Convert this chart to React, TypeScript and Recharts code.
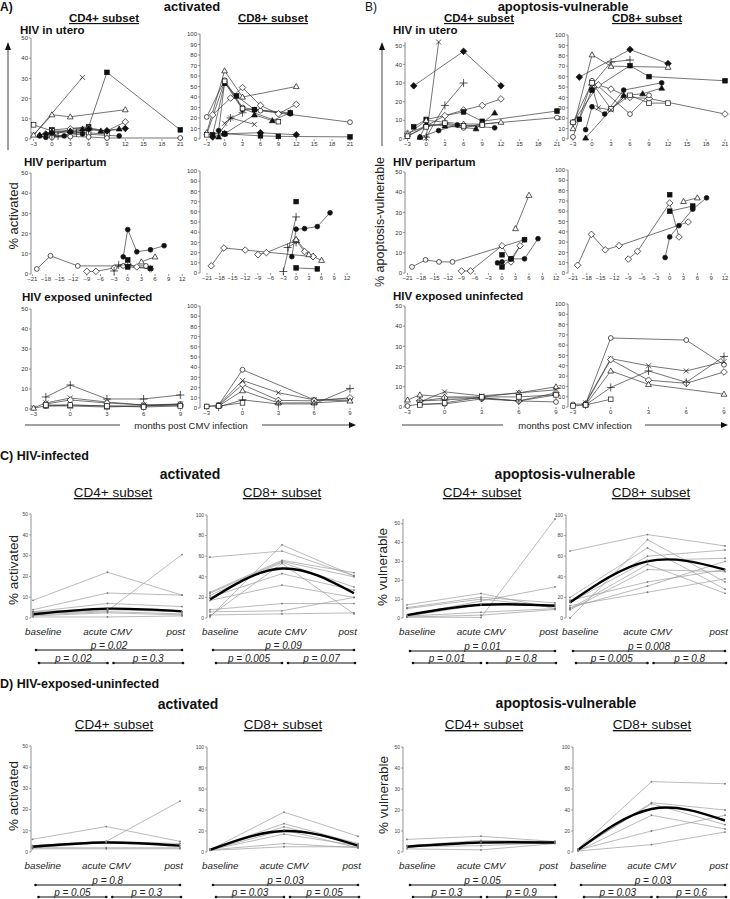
import React from "react";
import { LineChart, Line, XAxis, YAxis } from "recharts";

type Shape = "oc" | "fc" | "os" | "fs" | "ot" | "ft" | "od" | "fd" | "x" | "+";
type Series = { s: Shape; p: [number, number][] };
type Box = { ax: number; top: number; y0: number; x0: number; x1: number };

const FONT = "'Liberation Sans', Arial, sans-serif";

// tick values
const monthsUtero = [-3, 0, 3, 6, 9, 12, 15, 18, 21];
const monthsPeri = [-21, -18, -15, -12, -9, -6, -3, 0, 3, 6, 9, 12];
const monthsUninf = [-3, 0, 3, 6, 9];
const ticks50 = [0, 10, 20, 30, 40, 50];
const ticks100 = [0, 10, 20, 30, 40, 50, 60, 70, 80, 90, 100];
const ticks100by20 = [0, 20, 40, 60, 80, 100];
const phases = ["baseline", "acute CMV", "post"];

// A) activated, per subject: [month, %]
const aUteroCD4: Series[] = [
  { s: "x", p: [[-3, 2], [5, 30.5]] },
  { s: "fs", p: [[0, 4.5], [6, 6], [9, 33], [21, 4.5]] },
  { s: "ot", p: [[-3, 2], [0, 12], [3, 11], [12, 14.5]] },
  { s: "os", p: [[-3, 7], [0, 4], [3, 4], [6, 3], [9, 2.5]] },
  { s: "od", p: [[0, 1.5], [3, 5], [6, 5.5], [9, 4], [12, 8.5]] },
  { s: "ft", p: [[-2, 2], [0, 3.5], [3, 4], [5, 5], [8, 4], [11, 5]] },
  { s: "fd", p: [[-1, 2.5], [0, 3], [3, 3.5], [6, 5], [9, 4], [12, 5.2]] },
  { s: "fc", p: [[-2, 1.5], [-1, 0.8], [2, 1.5], [5, 2.5], [11, 1.5]] },
  { s: "oc", p: [[0, 0.8], [3, 1.2], [6, 1], [9, 0.5], [21, 0.5]] },
  { s: "+", p: [[0, 2], [1, 1.5], [4, 3], [6, 4.5]] },
];
const aUteroCD8: Series[] = [
  { s: "oc", p: [[-3, 21], [0, 56], [3, 30], [6, 27], [21, 16]] },
  { s: "ot", p: [[-3, 6], [0, 65], [3, 40], [12, 50]] },
  { s: "od", p: [[-2, 23], [1, 39], [3, 49], [6, 32], [9, 24], [12, 33]] },
  { s: "fs", p: [[-2, 4], [0, 53], [2, 41], [5, 28], [11, 25]] },
  { s: "fs", p: [[0, 5], [6, 3], [9, 2.5], [21, 2]] },
  { s: "fc", p: [[-1, 8], [0, 54], [3, 28], [5, 28], [11, 24]] },
  { s: "ft", p: [[-1, 2], [0, 5], [5, 23], [8, 17.5], [11, 25]] },
  { s: "fd", p: [[-2, 2], [0, 5], [6, 6], [12, 4]] },
  { s: "x", p: [[0, 15], [1, 20], [5, 14]] },
  { s: "+", p: [[-1, 5], [1, 20], [3, 25]] },
  { s: "os", p: [[-3, 4], [0, 55], [3, 29], [9, 16.5]] },
];
const aPeriCD4: Series[] = [
  { s: "oc", p: [[-20, 2.5], [-17, 9], [-11, 4], [-1, 4], [4, 4]] },
  { s: "od", p: [[-9, 1.3], [-7, 1.3], [-3, 3], [0, 5], [2, 3.5], [5, 2.5]] },
  { s: "+", p: [[-3, 1.5], [-2, 4.5], [0, 4.5]] },
  { s: "fc", p: [[-1, 8.5], [0, 22], [2, 11], [5, 12], [8, 14]] },
  { s: "fs", p: [[0, 7]] },
  { s: "fs", p: [[0, 3.5], [5, 2.8]] },
  { s: "ot", p: [[3, 6], [6, 8.5]] },
];
const aPeriCD8: Series[] = [
  { s: "od", p: [[-20, 7], [-17, 24.5], [-12, 22.5], [4, 16]] },
  { s: "od", p: [[-9, 18], [-7, 20], [0, 32], [2, 21], [4, 16]] },
  { s: "+", p: [[-3, 1.5], [0, 55]] },
  { s: "+", p: [[-2, 25], [0, 30]] },
  { s: "fs", p: [[0, 70]] },
  { s: "fs", p: [[0, 5], [5, 4]] },
  { s: "fc", p: [[-1, 16], [0, 43], [2, 43.5], [5, 45.5], [8, 59]] },
  { s: "ot", p: [[0, 33], [3, 18], [6, 12.5]] },
];
const aUninfCD4: Series[] = [
  { s: "+", p: [[-2, 6], [0, 12], [3, 5], [6, 5], [9, 7]] },
  { s: "x", p: [[-3, 0.5], [-2, 3], [0, 5.5], [3, 3.5], [6, 2], [9, 2.5]] },
  { s: "od", p: [[-2, 2.5], [0, 4.5], [3, 3], [6, 2], [9, 2]] },
  { s: "oc", p: [[-2, 1.5], [0, 2], [3, 1.5], [6, 1.5], [9, 2.5]] },
  { s: "ot", p: [[-3, 0.5], [-2, 1.5], [0, 1.5], [3, 1], [6, 1.5], [9, 2]] },
  { s: "os", p: [[-2, 2], [0, 2], [3, 1.5], [6, 1], [9, 1.5]] },
];
const aUninfCD8: Series[] = [
  { s: "oc", p: [[-3, 1.5], [-2, 3], [0, 37.5], [6, 8], [9, 9]] },
  { s: "x", p: [[-2, 3], [0, 27], [3, 15], [6, 8], [9, 7]] },
  { s: "od", p: [[-2, 2.5], [0, 23], [3, 7.5], [6, 7], [9, 10]] },
  { s: "ot", p: [[-2, 2], [0, 17], [3, 5], [6, 5], [9, 7]] },
  { s: "+", p: [[-2, 1], [0, 8], [3, 4], [6, 4], [9, 19]] },
  { s: "os", p: [[-3, 1.5], [-2, 2], [0, 5]] },
];

// B) apoptosis-vulnerable
const bUteroCD4: Series[] = [
  { s: "fd", p: [[-2, 28.5], [6, 47], [12, 28.5]] },
  { s: "x", p: [[0, 0.5], [2, 52]] },
  { s: "+", p: [[0, 1], [3, 18], [6, 30]] },
  { s: "od", p: [[-3, 3], [0, 7], [3, 12.5], [6, 15.5], [9, 18], [12, 21.5]] },
  { s: "fs", p: [[-2, 6.5], [0, 10.5], [6, 14.5], [9, 9.5], [21, 15]] },
  { s: "oc", p: [[-3, 1.5], [0, 7], [3, 8], [6, 6], [9, 8], [21, 11.5]] },
  { s: "ft", p: [[-1, 1], [0, 8], [3, 7], [8, 5.5], [11, 14]] },
  { s: "ot", p: [[-3, 2.5], [0, 10], [3, 9], [6, 8], [9, 8], [12, 9]] },
  { s: "fc", p: [[-1, 1], [2, 4.5], [5, 7.5], [11, 6]] },
  { s: "os", p: [[-3, 1.5], [0, 6.5], [3, 8.5], [6, 7], [9, 7.5]] },
];
const bUteroCD8: Series[] = [
  { s: "fd", p: [[-2, 59.5], [6, 86], [12, 72.5]] },
  { s: "ot", p: [[-3, 10], [0, 81], [3, 70], [12, 69]] },
  { s: "+", p: [[0, 52], [3, 74], [6, 76]] },
  { s: "fs", p: [[-2, 19], [0, 47], [6, 70.5], [9, 60], [21, 56]] },
  { s: "fc", p: [[-1, 9], [0, 31], [2, 24], [5, 47], [11, 54]] },
  { s: "ft", p: [[-1, 1], [5, 42], [8, 43.5], [11, 49]] },
  { s: "od", p: [[-3, 16], [1, 52], [3, 48], [6, 40], [9, 39], [21, 24]] },
  { s: "oc", p: [[-3, 2], [0, 56], [6, 24], [9, 42]] },
  { s: "os", p: [[-3, 16], [0, 54], [3, 29], [6, 42], [9, 34.5], [12, 34.5]] },
  { s: "x", p: [[0, 50], [1, 30], [3, 28], [5, 40]] },
];
const bPeriCD4: Series[] = [
  { s: "oc", p: [[-20, 3], [-17, 6.5], [-14, 5.5], [-11, 5.5], [5, 16.5]] },
  { s: "od", p: [[-9, 1], [-7, 1], [0, 13.5], [2, 5.5], [4, 13.5]] },
  { s: "ot", p: [[3, 22], [6, 38.5]] },
  { s: "fc", p: [[-1, 5], [0, 5.5], [2, 7], [5, 7], [8, 17]] },
  { s: "fs", p: [[0, 9]] },
  { s: "fs", p: [[0, 3], [2, 7], [5, 16.5]] },
];
const bPeriCD8: Series[] = [
  { s: "od", p: [[-20, 7.5], [-17, 37.5], [-14, 22.5], [-11, 26.5], [4, 49.5]] },
  { s: "od", p: [[-9, 13.5], [-7, 21], [0, 68], [2, 35]] },
  { s: "ot", p: [[3, 69.5], [6, 73]] },
  { s: "fs", p: [[0, 76]] },
  { s: "fs", p: [[0, 60], [5, 65]] },
  { s: "fc", p: [[-1, 15], [0, 35], [2, 46], [5, 62], [8, 73]] },
];
const bUninfCD4: Series[] = [
  { s: "ot", p: [[-3, 3.5], [-2, 6], [0, 5], [3, 5], [6, 7], [9, 10]] },
  { s: "x", p: [[-2, 2.5], [0, 7.5], [3, 5.5], [6, 7], [9, 8.5]] },
  { s: "oc", p: [[-3, 0.5], [-2, 1.5], [0, 1.5], [3, 4], [6, 3], [9, 2.5]] },
  { s: "od", p: [[-2, 3], [0, 4.5], [3, 4.5], [6, 3], [9, 7]] },
  { s: "+", p: [[-2, 3], [0, 3.5], [3, 4.5], [6, 3], [9, 6]] },
  { s: "os", p: [[-2, 1], [0, 2], [3, 5], [6, 5], [9, 6]] },
];
const bUninfCD8: Series[] = [
  { s: "oc", p: [[-3, 2.5], [-2, 3], [0, 67], [6, 65], [9, 41]] },
  { s: "x", p: [[-2, 4], [0, 47], [3, 40], [6, 35], [9, 44]] },
  { s: "od", p: [[-2, 3], [0, 46], [3, 26], [6, 23], [9, 34]] },
  { s: "ot", p: [[-2, 2], [0, 35], [3, 22], [9, 12.5]] },
  { s: "+", p: [[-2, 2], [0, 19], [3, 35], [6, 24], [9, 49]] },
  { s: "os", p: [[-3, 1], [-2, 2], [0, 7.5]] },
];

// C) HIV-infected: [baseline, acute, post] per subject, plus smoothed mean
const cActCD4 = [[8.5, 22, 11], [4, 12, 11], [3, 7, 5.5], [2, 3.5, 30.5], [2.5, 4, 3], [1.5, 3, 2], [1, 2.5, 1.5], [0.5, 0.5, 1], [3, 4.5, 3]];
const cActCD4Mean = [1.8, 4.5, 3.2];
const cActCD8 = [[59, 65, 41], [25, 56, 44], [24, 55, 40], [22, 54, 30], [20, 43, 27], [17, 32, 20], [8, 14, 14], [6, 7, 20], [3, 4, 5], [1, 71, 41], [2, 53, 4]];
const cActCD8Mean = [18, 48, 24];
const cVulCD4 = [[7, 13, 5], [5.5, 11, 8], [5, 10, 6], [1.5, 9, 16.5], [1, 7, 7], [0.5, 0.3, 52.5], [1, 3, 5], [0.5, 1.5, 4.5]];
const cVulCD4Mean = [1.5, 7, 6.5];
const cVulCD8 = [[65, 81, 70], [0, 76, 35], [20, 68, 28], [17, 60, 66], [15, 56, 58], [9, 52, 24], [8, 47, 45], [17, 35, 47], [10, 31, 55], [12, 25, 38]];
const cVulCD8Mean = [15, 55, 47];

// D) HIV-exposed-uninfected
const dActCD4 = [[6, 12, 5], [3, 5, 24], [3, 5, 4], [2, 4.5, 3], [1.5, 1.5, 1.5], [2, 2, 2]];
const dActCD4Mean = [2.5, 4.5, 3];
const dActCD8 = [[2, 38, 15], [3, 27, 8], [2, 24, 7], [2, 17, 6], [2, 8, 4], [1.5, 5, 5], [2, 21, 4]];
const dActCD8Mean = [2, 20, 6];
const dVulCD4 = [[6, 7.5, 5], [3, 5.5, 5], [2.5, 3, 4.5], [1.5, 1, 4], [3, 4.5, 5]];
const dVulCD4Mean = [2.5, 4.5, 4.5];
const dVulCD8 = [[3, 67, 65], [2, 47, 40], [2, 46, 26], [1, 35, 22], [2, 20, 35], [1, 7, 19]];
const dVulCD8Mean = [2, 41, 30];

// p-values: [baseline-post, baseline-acute, acute-post]
const pCActCD4 = ["p = 0.02", "p = 0.02", "p = 0.3"];
const pCActCD8 = ["p = 0.09", "p = 0.005", "p = 0.07"];
const pCVulCD4 = ["p = 0.01", "p = 0.01", "p = 0.8"];
const pCVulCD8 = ["p = 0.008", "p = 0.005", "p = 0.8"];
const pDActCD4 = ["p = 0.8", "p = 0.05", "p = 0.3"];
const pDActCD8 = ["p = 0.03", "p = 0.03", "p = 0.05"];
const pDVulCD4 = ["p = 0.05", "p = 0.3", "p = 0.9"];
const pDVulCD8 = ["p = 0.03", "p = 0.03", "p = 0.6"];

// plot boxes: axis x, top tick y, zero y, first/last x position
const boxA1: Box = { ax: 30.7, top: 38, y0: 139, x0: 33.3, x1: 180 };
const boxA2: Box = { ax: 200, top: 34, y0: 139, x0: 206.7, x1: 350 };
const boxA3: Box = { ax: 30.7, top: 173, y0: 274, x0: 32, x1: 182 };
const boxA4: Box = { ax: 200, top: 171, y0: 273, x0: 207, x1: 347 };
const boxA5: Box = { ax: 30.7, top: 309, y0: 409, x0: 33.3, x1: 180 };
const boxA6: Box = { ax: 200, top: 306, y0: 408, x0: 206.7, x1: 350 };
const boxB1: Box = { ax: 405, top: 42, y0: 139, x0: 407.5, x1: 557 };
const boxB2: Box = { ax: 568, top: 35, y0: 139, x0: 573, x1: 725 };
const boxB3: Box = { ax: 405, top: 172, y0: 273, x0: 407.5, x1: 556 };
const boxB4: Box = { ax: 568, top: 170, y0: 273, x0: 573, x1: 725 };
const boxB5: Box = { ax: 405, top: 306, y0: 407, x0: 407.5, x1: 556 };
const boxB6: Box = { ax: 568, top: 304, y0: 407, x0: 573, x1: 724 };
const boxC1: Box = { ax: 31, top: 514, y0: 618, x0: 33, x1: 182 };
const boxC2: Box = { ax: 207, top: 515, y0: 618, x0: 210, x1: 354 };
const boxC3: Box = { ax: 403, top: 519, y0: 618, x0: 407, x1: 555 };
const boxC4: Box = { ax: 566, top: 515, y0: 618, x0: 570, x1: 725 };
const boxD1: Box = { ax: 31, top: 746, y0: 852, x0: 32.5, x1: 180 };
const boxD2: Box = { ax: 207, top: 747, y0: 852, x0: 210, x1: 358 };
const boxD3: Box = { ax: 403, top: 747, y0: 852, x0: 407, x1: 555 };
const boxD4: Box = { ax: 573, top: 747, y0: 852, x0: 578, x1: 725 };

const INK = "#111";

function Marker({ cx, cy, s }: { cx: number; cy: number; s: Shape }) {
  const fill = s[0] === "f" ? INK : "#fff";
  const st = { stroke: INK, strokeWidth: 0.7 };
  switch (s) {
    case "oc":
    case "fc":
      return <circle cx={cx} cy={cy} r={2.4} fill={fill} {...st} />;
    case "os":
    case "fs":
      return <rect x={cx - 2.3} y={cy - 2.3} width={4.6} height={4.6} fill={fill} {...st} />;
    case "ot":
    case "ft":
      return <polygon points={`${cx},${cy - 3} ${cx + 2.9},${cy + 2.1} ${cx - 2.9},${cy + 2.1}`} fill={fill} {...st} />;
    case "od":
    case "fd":
      return <polygon points={`${cx},${cy - 3.3} ${cx + 3.3},${cy} ${cx},${cy + 3.3} ${cx - 3.3},${cy}`} fill={fill} {...st} />;
    case "x":
      return <path d={`M${cx - 2.5},${cy - 2.5}L${cx + 2.5},${cy + 2.5}M${cx - 2.5},${cy + 2.5}L${cx + 2.5},${cy - 2.5}`} fill="none" {...st} />;
    default:
      return <path d={`M${cx - 4},${cy}H${cx + 4}M${cx},${cy - 4}V${cy + 4}`} fill="none" {...st} />;
  }
}

const fmtMonth = (v: number) => (v < 0 ? `\u2212${-v}` : `${v}`);
const smallTick = { fontSize: 6, fill: "#333", fontFamily: FONT };

function MonthChart({ data, b, xt, yt }: { data: Series[]; b: Box; xt: number[]; yt: number[] }) {
  const YW = 24, MT = 6, MR = 6, XH = 13;
  const w = YW + (b.x1 - b.ax) + MR;
  const h = MT + (b.y0 - b.top) + XH;
  return (
    <div style={{ position: "absolute", left: b.ax - YW, top: b.top - MT }}>
      <LineChart width={w} height={h} margin={{ top: MT, right: MR, left: 0, bottom: 0 }}>
        <XAxis
          type="number"
          dataKey="x"
          domain={[xt[0], xt[xt.length - 1]]}
          ticks={xt}
          interval={0}
          padding={{ left: b.x0 - b.ax, right: 0 }}
          height={XH}
          axisLine={false}
          tickLine={{ stroke: "#555", strokeWidth: 0.6 }}
          tickSize={2}
          tickMargin={1}
          tickFormatter={fmtMonth}
          tick={smallTick}
        />
        <YAxis
          type="number"
          domain={[0, yt[yt.length - 1]]}
          ticks={yt}
          interval={0}
          width={YW}
          axisLine={{ stroke: "#555", strokeWidth: 0.7 }}
          tickLine={{ stroke: "#555", strokeWidth: 0.6 }}
          tickSize={2}
          tickMargin={1}
          tick={smallTick}
        />
        {data.map((sr, i) => (
          <Line
            key={i}
            type="linear"
            data={sr.p.map(([x, y]) => ({ x, y }))}
            dataKey="y"
            stroke="#3a3a3a"
            strokeWidth={0.7}
            activeDot={false}
            isAnimationActive={false}
            dot={(pr: any) =>
              pr.cx == null ? <g key={pr.index} /> : <Marker key={pr.index} cx={pr.cx} cy={pr.cy} s={sr.s} />
            }
          />
        ))}
      </LineChart>
    </div>
  );
}

// phase labels: first sits right of its point, last ends at its point
function PhaseTick({ x, y, payload, index }: any) {
  const anchor = index === 0 ? "start" : index === 2 ? "end" : "middle";
  const dx = index === 0 ? -8 : index === 2 ? 3 : 0;
  return (
    <text x={x + dx} y={y} dy="0.95em" textAnchor={anchor} fontSize={9.8} fontStyle="italic" fill="#222" fontFamily={FONT}>
      {payload.value}
    </text>
  );
}

function PhaseChart({ lines, mean, b, yt }: { lines: number[][]; mean: number[]; b: Box; yt: number[] }) {
  const YW = 24, MT = 6, MR = 22, XH = 24;
  const w = YW + (b.x1 - b.ax) + MR;
  const h = MT + (b.y0 - b.top) + XH;
  const rows = phases.map((ph, i) => {
    const r: Record<string, number | string> = { ph, m: mean[i] };
    lines.forEach((l, j) => (r[`s${j}`] = l[i]));
    return r;
  });
  return (
    <div style={{ position: "absolute", left: b.ax - YW, top: b.top - MT }}>
      <LineChart width={w} height={h} data={rows} margin={{ top: MT, right: MR, left: 0, bottom: 0 }}>
        <XAxis
          dataKey="ph"
          interval={0}
          padding={{ left: b.x0 - b.ax, right: 0 }}
          height={XH}
          axisLine={false}
          tickLine={false}
          tickSize={0}
          tickMargin={8}
          tick={<PhaseTick />}
        />
        <YAxis
          type="number"
          domain={[0, yt[yt.length - 1]]}
          ticks={yt}
          interval={0}
          width={YW}
          axisLine={{ stroke: "#666", strokeWidth: 0.7 }}
          tickLine={{ stroke: "#666", strokeWidth: 0.6 }}
          tickSize={2}
          tickMargin={1}
          tick={{ fontSize: 5, fill: "#444", fontFamily: FONT }}
        />
        {lines.map((_, j) => (
          <Line
            key={j}
            type="linear"
            dataKey={`s${j}`}
            stroke="#9c9c9c"
            strokeWidth={0.7}
            dot={{ r: 0.9, fill: "#777", stroke: "none" }}
            activeDot={false}
            isAnimationActive={false}
          />
        ))}
        <Line type="natural" dataKey="m" stroke="#000" strokeWidth={2.4} dot={false} activeDot={false} isAnimationActive={false} />
      </LineChart>
    </div>
  );
}

function Brackets({ b, y1, y2, p }: { b: Box; y1: number; y2: number; p: string[] }) {
  const xa = (b.x0 + b.x1) / 2;
  const segs: [number, number, number, string][] = [
    [b.x0 + 3, b.x1, y1, p[0]],
    [b.x0 + 6, xa, y2, p[1]],
    [xa + 6, b.x1 + 1, y2, p[2]],
  ];
  return (
    <g>
      {segs.map(([a, c, y, t], i) => (
        <g key={i}>
          <line x1={a} x2={c} y1={y} y2={y} stroke={INK} strokeWidth={1.1} />
          <circle cx={a} cy={y} r={1.3} fill={INK} />
          <circle cx={c} cy={y} r={1.3} fill={INK} />
          <text x={(a + c) / 2} y={y - 1} textAnchor="middle" fontSize={10} fontStyle="italic" fill="#222">
            {t}
          </text>
        </g>
      ))}
    </g>
  );
}

function SubsetTitles({ y, c4, c8, bold, size }: { y: number; c4: number; c8: number; bold?: boolean; size: number }) {
  const st = { textDecoration: "underline" } as React.CSSProperties;
  return (
    <g fontSize={size} fontWeight={bold ? "bold" : "normal"} textAnchor="middle" fill="#111">
      <text x={c4} y={y} style={st}>CD4+ subset</text>
      <text x={c8} y={y} style={st}>CD8+ subset</text>
    </g>
  );
}

function MonthsArrow({ x1, x2, x3, x4, tx, y }: { x1: number; x2: number; x3: number; x4: number; tx: number; y: number }) {
  return (
    <g>
      <line x1={x1} x2={x2} y1={y} y2={y} stroke={INK} strokeWidth={0.8} />
      <line x1={x3} x2={x4} y1={y} y2={y} stroke={INK} strokeWidth={0.8} />
      <polygon points={`${x4 - 1},${y - 3} ${x4 + 6},${y} ${x4 - 1},${y + 3}`} fill={INK} />
      <text x={tx} y={y + 3.5} fontSize={9.5} textAnchor="middle" fill="#222">months post CMV infection</text>
    </g>
  );
}

function UpArrow({ x, y1, y2 }: { x: number; y1: number; y2: number }) {
  return (
    <g>
      <line x1={x} x2={x} y1={y2} y2={y1 + 4} stroke={INK} strokeWidth={0.8} />
      <polygon points={`${x - 3},${y1 + 6} ${x},${y1 - 2} ${x + 3},${y1 + 6}`} fill={INK} />
    </g>
  );
}

function VLabel({ x, y, text, size }: { x: number; y: number; text: string; size: number }) {
  return (
    <text transform={`translate(${x},${y}) rotate(-90)`} textAnchor="middle" dominantBaseline="central" fontSize={size} fill="#222">
      {text}
    </text>
  );
}

export default function App() {
  return (
    <div
      style={{
        position: "absolute",
        left: 0,
        top: 0,
        width: 730,
        height: 899,
        overflow: "hidden",
        background: "#fff",
        fontFamily: FONT,
      }}
    >
      <MonthChart data={aUteroCD4} b={boxA1} xt={monthsUtero} yt={ticks50} />
      <MonthChart data={aUteroCD8} b={boxA2} xt={monthsUtero} yt={ticks100} />
      <MonthChart data={aPeriCD4} b={boxA3} xt={monthsPeri} yt={ticks50} />
      <MonthChart data={aPeriCD8} b={boxA4} xt={monthsPeri} yt={ticks100} />
      <MonthChart data={aUninfCD4} b={boxA5} xt={monthsUninf} yt={ticks50} />
      <MonthChart data={aUninfCD8} b={boxA6} xt={monthsUninf} yt={ticks100} />

      <MonthChart data={bUteroCD4} b={boxB1} xt={monthsUtero} yt={ticks50} />
      <MonthChart data={bUteroCD8} b={boxB2} xt={monthsUtero} yt={ticks100} />
      <MonthChart data={bPeriCD4} b={boxB3} xt={monthsPeri} yt={ticks50} />
      <MonthChart data={bPeriCD8} b={boxB4} xt={monthsPeri} yt={ticks100} />
      <MonthChart data={bUninfCD4} b={boxB5} xt={monthsUninf} yt={ticks50} />
      <MonthChart data={bUninfCD8} b={boxB6} xt={monthsUninf} yt={ticks100} />

      <PhaseChart lines={cActCD4} mean={cActCD4Mean} b={boxC1} yt={ticks50} />
      <PhaseChart lines={cActCD8} mean={cActCD8Mean} b={boxC2} yt={ticks100by20} />
      <PhaseChart lines={cVulCD4} mean={cVulCD4Mean} b={boxC3} yt={ticks50} />
      <PhaseChart lines={cVulCD8} mean={cVulCD8Mean} b={boxC4} yt={ticks100by20} />

      <PhaseChart lines={dActCD4} mean={dActCD4Mean} b={boxD1} yt={ticks50} />
      <PhaseChart lines={dActCD8} mean={dActCD8Mean} b={boxD2} yt={ticks100by20} />
      <PhaseChart lines={dVulCD4} mean={dVulCD4Mean} b={boxD3} yt={ticks50} />
      <PhaseChart lines={dVulCD8} mean={dVulCD8Mean} b={boxD4} yt={ticks100by20} />

      <svg
        width={730}
        height={899}
        style={{ position: "absolute", left: 0, top: 0, pointerEvents: "none" }}
        fontFamily={FONT}
      >
        {/* panel A */}
        <text x={0} y={11} fontSize={12} fontWeight="bold" fill="#111">A)</text>
        <text x={192} y={11} fontSize={13} fontWeight="bold" textAnchor="middle" fill="#111">activated</text>
        <SubsetTitles y={22} c4={104} c8={273} bold size={11.5} />
        <text x={20} y={34} fontSize={11.5} fontWeight="bold" fill="#111">HIV in utero</text>
        <text x={24} y={166} fontSize={11.5} fontWeight="bold" fill="#111">HIV peripartum</text>
        <text x={22} y={301} fontSize={11.5} fontWeight="bold" fill="#111">HIV exposed uninfected</text>
        <UpArrow x={8} y1={44} y2={150} />
        <VLabel x={13} y={216} text="% activated" size={13} />
        <MonthsArrow x1={25} x2={120} x3={262} x4={350} tx={191} y={425} />

        {/* panel B */}
        <text x={365} y={11} fontSize={12} fill="#111">B)</text>
        <text x={563} y={11} fontSize={13} fontWeight="bold" textAnchor="middle" fill="#111">apoptosis-vulnerable</text>
        <SubsetTitles y={22} c4={479} c8={647} bold size={11.5} />
        <text x={393} y={34} fontSize={11.5} fontWeight="bold" fill="#111">HIV in utero</text>
        <text x={393} y={166} fontSize={11.5} fontWeight="bold" fill="#111">HIV peripartum</text>
        <text x={393} y={300} fontSize={11.5} fontWeight="bold" fill="#111">HIV exposed uninfected</text>
        <UpArrow x={382} y1={44} y2={146} />
        <VLabel x={380} y={222} text="% apoptosis-vulnerable" size={12.5} />
        <MonthsArrow x1={402} x2={503} x3={645} x4={722} tx={575} y={425} />

        {/* panel C */}
        <text x={0} y={460} fontSize={12.5} fontWeight="bold" fill="#111">C) HIV-infected</text>
        <text x={190} y={479} fontSize={14} fontWeight="bold" textAnchor="middle" fill="#111">activated</text>
        <text x={565} y={479} fontSize={14} fontWeight="bold" textAnchor="middle" fill="#111">apoptosis-vulnerable</text>
        <SubsetTitles y={497} c4={113} c8={282} size={13.5} />
        <SubsetTitles y={497} c4={482} c8={651} size={13.5} />
        <VLabel x={13} y={570} text="% activated" size={13.5} />
        <VLabel x={382} y={567} text="% vulnerable" size={13.5} />
        <Brackets b={boxC1} y1={650} y2={663} p={pCActCD4} />
        <Brackets b={boxC2} y1={650} y2={663} p={pCActCD8} />
        <Brackets b={boxC3} y1={651} y2={663} p={pCVulCD4} />
        <Brackets b={boxC4} y1={651} y2={663} p={pCVulCD8} />

        {/* panel D */}
        <text x={0} y={688} fontSize={12.5} fontWeight="bold" fill="#111">D) HIV-exposed-uninfected</text>
        <text x={188} y={709} fontSize={14} fontWeight="bold" textAnchor="middle" fill="#111">activated</text>
        <text x={566} y={708} fontSize={14} fontWeight="bold" textAnchor="middle" fill="#111">apoptosis-vulnerable</text>
        <SubsetTitles y={729} c4={114} c8={283} size={13.5} />
        <SubsetTitles y={729} c4={484} c8={652} size={13.5} />
        <VLabel x={13} y={796} text="% activated" size={13.5} />
        <VLabel x={383} y={795} text="% vulnerable" size={13.5} />
        <Brackets b={boxD1} y1={885} y2={897} p={pDActCD4} />
        <Brackets b={boxD2} y1={885} y2={897} p={pDActCD8} />
        <Brackets b={boxD3} y1={885} y2={897} p={pDVulCD4} />
        <Brackets b={boxD4} y1={885} y2={897} p={pDVulCD8} />
      </svg>
    </div>
  );
}
